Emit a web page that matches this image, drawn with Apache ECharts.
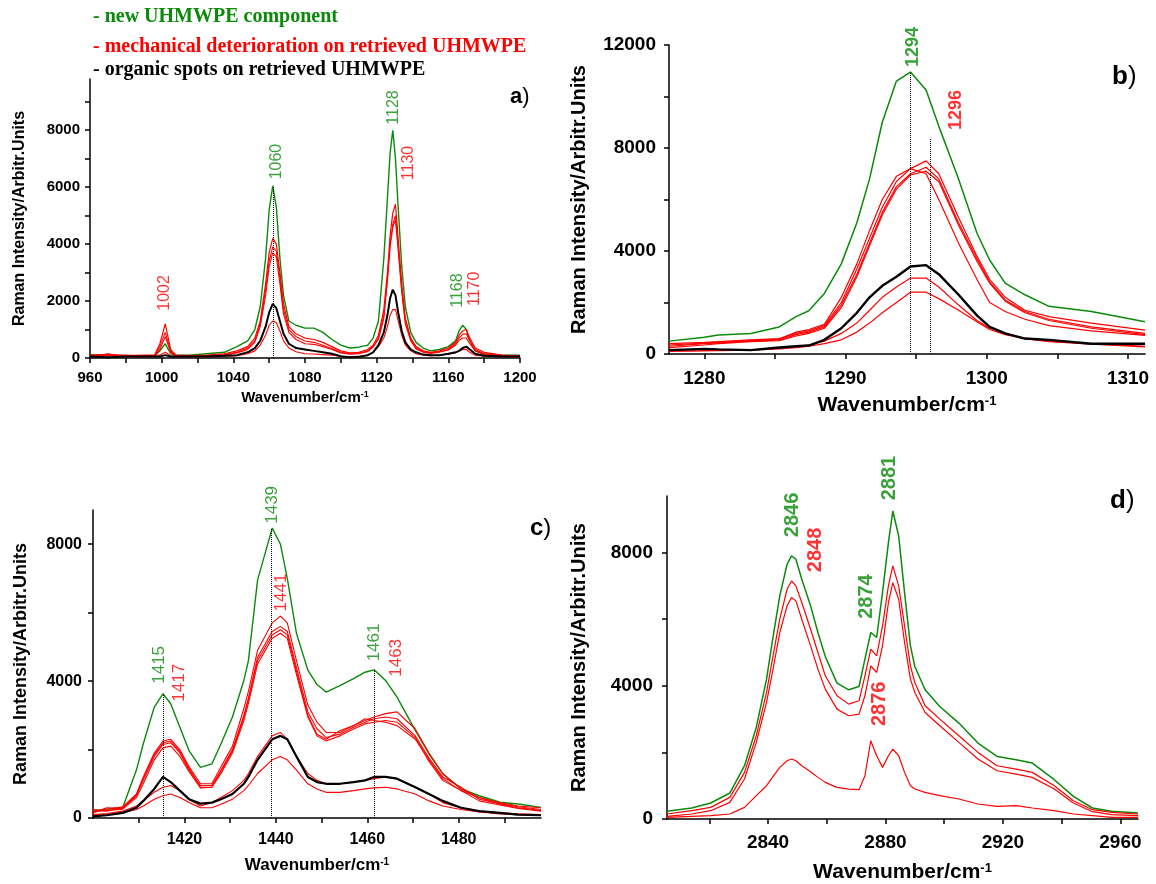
<!DOCTYPE html>
<html>
<head>
<meta charset="utf-8">
<title>Raman spectra UHMWPE</title>
<script src="https://cdn.jsdelivr.net/npm/echarts@6.0.0/dist/echarts.min.js"></script>
<style>
  html, body { margin: 0; padding: 0; background: #fff; }
  #chart { width: 1156px; height: 884px; }
</style>
</head>
<body>
<div id="chart"></div>
<script>
const GREEN = '#0a8a0a';
const RED = '#ff0000';
const BLACK = '#000000';
const SANS = '"Liberation Sans", Arial, sans-serif';
const SERIF = '"Liberation Serif", "Times New Roman", serif';

// ---- panel a) 960-1200 cm-1
const xA = [960, 970, 980, 990, 996, 999, 1002, 1005, 1008, 1015, 1025, 1035, 1042, 1048, 1052, 1055, 1058, 1060, 1062, 1064, 1066, 1068, 1071, 1075, 1080, 1085, 1090, 1095, 1100, 1105, 1110, 1115, 1118, 1121, 1124, 1126, 1127.5, 1129, 1130.5, 1132, 1134, 1136, 1139, 1142, 1146, 1150, 1155, 1160, 1164, 1166, 1168, 1170, 1172, 1175, 1180, 1190, 1200];
const aGreen = [120, 100, 80, 80, 80, 250, 500, 150, 100, 100, 150, 200, 400, 600, 1000, 1800, 3500, 5200, 6050, 5300, 3500, 2200, 1300, 1150, 1050, 1050, 900, 650, 450, 350, 380, 450, 700, 1300, 3500, 5600, 7200, 8000, 7000, 5300, 3200, 1800, 900, 550, 350, 250, 300, 400, 600, 950, 1150, 1000, 600, 250, 150, 100, 100];
const aRed1 = [100, 120, 80, 100, 100, 500, 1200, 300, 100, 80, 100, 150, 250, 400, 700, 1300, 2600, 3700, 4200, 4000, 3000, 1900, 1100, 850, 700, 650, 550, 400, 250, 180, 200, 300, 450, 800, 1700, 3000, 4300, 5100, 5400, 4200, 2600, 1400, 700, 400, 250, 200, 250, 350, 550, 800, 950, 1000, 700, 350, 200, 100, 80];
const aRed2 = [80, 100, 60, 80, 80, 400, 900, 250, 80, 60, 80, 120, 200, 350, 600, 1200, 2400, 3400, 3900, 3750, 2800, 1700, 1000, 750, 600, 550, 450, 330, 200, 150, 160, 250, 400, 700, 1500, 2800, 4000, 4700, 5000, 3900, 2400, 1300, 650, 350, 220, 180, 220, 300, 500, 700, 830, 850, 600, 300, 150, 80, 60];
const aRed3 = [60, 80, 100, 60, 60, 300, 750, 200, 60, 80, 60, 100, 180, 300, 550, 1100, 2200, 3200, 3700, 3550, 2600, 1550, 900, 650, 500, 480, 400, 300, 180, 130, 150, 230, 380, 650, 1400, 2700, 3900, 4600, 4850, 3800, 2300, 1200, 600, 320, 200, 160, 200, 280, 450, 620, 700, 700, 500, 250, 120, 60, 50];
const aRed4 = [50, 150, 50, 50, 50, 100, 200, 80, 50, 50, 50, 60, 80, 150, 250, 450, 800, 1150, 1300, 1250, 950, 600, 350, 220, 150, 140, 120, 100, 60, 50, 60, 100, 200, 400, 700, 1100, 1500, 1700, 1700, 1300, 800, 450, 250, 150, 100, 80, 100, 130, 180, 250, 300, 300, 200, 100, 60, 50, 40];
const aBlack = [50, 30, 50, 50, 50, 50, 100, 50, 50, 50, 50, 80, 100, 200, 350, 600, 1100, 1600, 1900, 1750, 1300, 850, 500, 350, 300, 250, 200, 150, 60, 30, 40, 100, 200, 450, 900, 1500, 2100, 2400, 2200, 1600, 950, 550, 300, 200, 120, 100, 100, 150, 200, 250, 350, 400, 300, 150, 80, 50, 50];
const aXLabels = [960, 1000, 1040, 1080, 1120, 1160, 1200];
const aXTicks = [960, 980, 1000, 1020, 1040, 1060, 1080, 1100, 1120, 1140, 1160, 1180, 1200];
const aYLabels = [0, 2000, 4000, 6000, 8000];
const aYTicks = [0, 1000, 2000, 3000, 4000, 5000, 6000, 7000, 8000, 9000];
const aPeaksGreen = [[1063.9, 6900, '1060'], [1129.3, 8800, '1128'], [1165.4, 2365, '1168']];
const aPeaksRed = [[1001.5, 2285, '1002'], [1137.7, 6850, '1130'], [1174.8, 2430, '1170']];
const aDots = [[1062.5, 6050]];

// ---- panel b) 1277-1311 cm-1
const xB = [1277.5, 1280, 1281, 1283.3, 1285.3, 1286.5, 1287.4, 1288.5, 1289.7, 1290.8, 1291.7, 1292.6, 1293.6, 1294.6, 1295.7, 1296.6, 1298, 1299.3, 1300.2, 1301.3, 1302.7, 1304.4, 1307.4, 1311.2];
const bGreen = [500, 650, 740, 800, 1050, 1450, 1680, 2350, 3500, 5100, 6800, 9000, 10600, 10950, 10250, 8850, 6800, 4700, 3650, 2750, 2300, 1850, 1650, 1250];
const bRed1 = [400, 450, 480, 550, 600, 800, 900, 1100, 2000, 3300, 4500, 5700, 6700, 7200, 7500, 7000, 5300, 3800, 2900, 2200, 1700, 1450, 1200, 930];
const bRed2 = [300, 400, 430, 500, 550, 750, 850, 1050, 1900, 3100, 4300, 5500, 6500, 7000, 7250, 6800, 5100, 3700, 2800, 2100, 1650, 1350, 1050, 800];
const bRed3 = [350, 420, 450, 520, 580, 850, 950, 1150, 2200, 3500, 4800, 6000, 6900, 7200, 7000, 6000, 4300, 2900, 2000, 1650, 1350, 1100, 900, 720];
const bRed4 = [250, 350, 400, 480, 520, 700, 800, 1000, 1800, 3000, 4200, 5400, 6400, 6950, 7100, 6700, 5000, 3600, 2750, 2050, 1600, 1300, 1000, 750];
const bRed5 = [150, 150, 150, 150, 250, 300, 350, 500, 800, 1200, 1700, 2200, 2600, 2950, 2950, 2600, 1900, 1300, 1000, 800, 600, 500, 400, 300];
const bRed6 = [100, 120, 130, 150, 200, 250, 300, 400, 550, 850, 1200, 1600, 2000, 2400, 2400, 2150, 1700, 1250, 950, 750, 600, 480, 380, 280];
const bBlack = [150, 200, 180, 150, 250, 300, 330, 550, 1000, 1600, 2200, 2650, 3000, 3400, 3450, 3100, 2300, 1500, 1050, 800, 600, 550, 400, 400];
const bXLabels = [1280, 1290, 1300, 1310];
const bXTicks = [1280, 1285, 1290, 1295, 1300, 1305, 1310];
const bYLabels = [0, 4000, 8000, 12000];
const bYTicks = [0, 2000, 4000, 6000, 8000, 10000, 12000];
const bPeaksGreen = [[1294.8, 11920, '1294']];
const bPeaksRed = [[1297.8, 9475, '1296']];
const bDots = [[1294.6, 10950], [1296, 8350]];

// ---- panel c) 1400-1498 cm-1
const xC = [1400, 1403, 1406.5, 1409.5, 1411, 1413.4, 1415.3, 1417, 1419, 1421, 1423.5, 1426, 1428, 1430.5, 1433, 1434, 1436, 1439.2, 1441, 1442.5, 1444.5, 1447, 1449, 1451, 1454, 1457, 1459.5, 1461.5, 1464, 1466.5, 1470.5, 1473.5, 1476.5, 1480.5, 1484.5, 1489, 1493, 1498];
const cGreen = [215, 260, 310, 1400, 2170, 3240, 3630, 3340, 2650, 1970, 1480, 1580, 2170, 2950, 4020, 4600, 6950, 8470, 8000, 7000, 5400, 4320, 3900, 3680, 3870, 4070, 4260, 4330, 4020, 3530, 2560, 1870, 1290, 850, 650, 460, 410, 310];
const cRed1 = [200, 250, 330, 700, 1200, 1900, 2250, 2300, 2000, 1500, 1000, 1000, 1500, 2100, 3200, 3700, 4900, 5700, 5900, 5700, 4600, 3300, 2800, 2500, 2500, 2700, 2850, 2950, 3050, 3100, 2600, 1900, 1300, 850, 600, 450, 350, 300];
const cRed2 = [150, 300, 280, 650, 1100, 1800, 2150, 2200, 1900, 1400, 950, 950, 1400, 2000, 3000, 3500, 4700, 5450, 5600, 5450, 4400, 3100, 2600, 2350, 2450, 2650, 2800, 2900, 2950, 2900, 2400, 1750, 1200, 900, 550, 420, 330, 250];
const cRed3 = [250, 200, 300, 680, 1150, 1850, 2200, 2250, 1950, 1450, 900, 900, 1350, 1950, 2950, 3450, 4600, 5350, 5500, 5350, 4300, 3000, 2450, 2300, 2550, 2700, 2900, 2850, 2800, 2700, 2300, 1700, 1150, 800, 600, 400, 300, 220];
const cRed4 = [180, 220, 260, 600, 1000, 1700, 2050, 2100, 1800, 1350, 880, 900, 1300, 1900, 2850, 3350, 4500, 5250, 5400, 5250, 4200, 2950, 2400, 2250, 2400, 2600, 2750, 2800, 2850, 2800, 2350, 1650, 1100, 800, 500, 380, 280, 200];
const cRed5 = [100, 130, 200, 350, 500, 750, 900, 950, 800, 550, 350, 450, 600, 800, 1100, 1300, 1800, 2400, 2500, 2300, 1800, 1300, 1100, 1000, 1000, 1050, 1100, 1150, 1200, 1150, 900, 700, 450, 300, 200, 150, 120, 100];
const cRed6 = [80, 100, 150, 250, 350, 550, 650, 700, 600, 450, 300, 300, 400, 550, 800, 950, 1300, 1700, 1800, 1700, 1400, 1000, 850, 750, 750, 800, 850, 880, 900, 850, 700, 500, 350, 250, 180, 120, 100, 80];
const cBlack = [50, 80, 150, 300, 500, 850, 1200, 1050, 800, 550, 420, 450, 550, 700, 1000, 1200, 1700, 2300, 2400, 2300, 1800, 1200, 1050, 1000, 1000, 1050, 1100, 1200, 1200, 1150, 900, 700, 500, 300, 200, 150, 100, 80];
const cXLabels = [1420, 1440, 1460, 1480];
const cXTicks = [1410, 1420, 1430, 1440, 1450, 1460, 1470, 1480, 1490];
const cYLabels = [0, 4000, 8000];
const cYTicks = [0, 2000, 4000, 6000, 8000];
const cPeaksGreen = [[1414.5, 4475, '1415'], [1439.2, 9150, '1439'], [1461.6, 5130, '1461']];
const cPeaksRed = [[1418.9, 3950, '1417'], [1441.2, 6590, '1441'], [1466.3, 4680, '1463']];
const cDots = [[1415.3, 3630], [1439, 8470], [1461.5, 4330]];

// ---- panel d) 2805-2966 cm-1
const xD = [2805.6, 2814, 2820.5, 2827, 2832, 2836, 2839.5, 2841.5, 2844, 2846.5, 2848, 2849.5, 2851.5, 2854.5, 2857, 2859.5, 2863.5, 2867.5, 2871, 2873, 2875, 2877, 2879, 2881, 2882.5, 2884.5, 2886.5, 2888.5, 2890, 2893.5, 2898.5, 2905, 2911.5, 2918, 2924.5, 2930, 2937.5, 2944, 2950.5, 2957, 2966];
const dGreen = [230, 330, 480, 780, 1600, 2750, 4200, 5350, 6700, 7650, 7900, 7800, 7200, 6400, 5600, 4880, 4080, 3880, 3980, 4800, 5600, 5450, 6800, 8300, 9250, 8500, 6800, 5200, 4580, 3880, 3380, 2880, 2280, 1880, 1780, 1680, 1180, 680, 330, 230, 180];
const dRed1 = [150, 250, 350, 650, 1400, 2500, 3800, 4800, 6000, 6900, 7150, 7000, 6500, 5700, 5000, 4300, 3700, 3450, 3550, 4300, 5100, 4900, 5800, 7000, 7600, 7000, 5800, 4600, 4100, 3400, 3000, 2500, 2000, 1600, 1500, 1400, 1000, 550, 280, 200, 150];
const dRed2 = [80, 150, 250, 500, 1200, 2300, 3500, 4400, 5600, 6400, 6650, 6550, 6000, 5200, 4500, 3900, 3300, 3100, 3150, 3700, 4600, 4400, 5200, 6500, 7100, 6600, 5300, 4200, 3800, 3200, 2800, 2300, 1800, 1450, 1350, 1250, 900, 480, 220, 130, 100];
const dRed3 = [50, 80, 100, 150, 350, 700, 1000, 1250, 1550, 1750, 1800, 1750, 1600, 1420, 1250, 1100, 950, 900, 880, 1300, 2350, 1900, 1550, 1900, 2100, 1900, 1400, 1000, 900, 800, 700, 600, 450, 380, 400, 330, 250, 150, 100, 50, 50];
const dXLabels = [2840, 2880, 2920, 2960];
const dXTicks = [2820, 2840, 2860, 2880, 2900, 2920, 2940, 2960];
const dYLabels = [0, 4000, 8000];
const dYTicks = [0, 2000, 4000, 6000, 8000];
const dPeaksGreen = [[2848.3, 9130, '2846'], [2873.6, 6680, '2874'], [2881.3, 10240, '2881']];
const dPeaksRed = [[2856, 8080, '2848'], [2878.1, 3460, '2876']];

function spectrum(xs, ys, color, width, idx) {
    return {
        type: 'line',
        xAxisIndex: idx,
        yAxisIndex: idx,
        data: xs.map((x, i) => [x, ys[i]]),
        symbol: 'none',
        silent: true,
        lineStyle: { color: color, width: width }
    };
}

// dotted guide lines from the baseline up to the peak
function withDots(series, dots) {
    series.markLine = {
        silent: true,
        symbol: ['none', 'none'],
        label: { show: false },
        lineStyle: { type: 'dotted', color: '#000', width: 1 },
        data: dots.map(d => [{ coord: [d[0], 0] }, { coord: [d[0], d[1]] }])
    };
    return series;
}

function peakLabels(list, color, idx, size, weight) {
    return {
        type: 'scatter',
        xAxisIndex: idx,
        yAxisIndex: idx,
        clip: false,
        silent: true,
        symbolSize: 1,
        itemStyle: { color: 'rgba(0,0,0,0)' },
        z: 10,
        data: list.map(p => ({ value: [p[0], p[1]], name: p[2] })),
        label: {
            show: true, formatter: '{b}', rotate: 90, position: 'inside',
            color: color, fontSize: size, fontWeight: weight, fontFamily: SANS
        }
    };
}

function plain(v) {
    return String(v);
}

function xAxisFor(idx, min, max, labels, ticks, fs, margin, nameSize, nameGap) {
    return {
        gridIndex: idx, type: 'value', min: min, max: max,
        axisLine: { show: true, onZero: false, lineStyle: { color: '#000', width: 1.5 } },
        axisTick: { show: true, length: 5, customValues: ticks, lineStyle: { color: '#000', width: 1.5 } },
        axisLabel: { customValues: labels, formatter: plain, fontSize: fs, fontWeight: 'bold', color: '#000', margin: margin, fontFamily: SANS },
        splitLine: { show: false },
        name: 'Wavenumber/cm{sup|-1}',
        nameLocation: 'middle',
        nameGap: nameGap,
        nameTextStyle: {
            fontSize: nameSize, fontWeight: 'bold', color: '#000', fontFamily: SANS,
            rich: { sup: { fontSize: Math.round(nameSize * 0.6), fontWeight: 'bold', color: '#000', verticalAlign: 'top', fontFamily: SANS } }
        }
    };
}

function yAxisFor(idx, max, labels, ticks, fs, margin, nameSize, nameGap) {
    return {
        gridIndex: idx, type: 'value', min: 0, max: max,
        axisLine: { show: true, onZero: false, lineStyle: { color: '#000', width: 1.5 } },
        axisTick: { show: true, length: 5, customValues: ticks, lineStyle: { color: '#000', width: 1.5 } },
        axisLabel: { customValues: labels, formatter: plain, fontSize: fs, fontWeight: 'bold', color: '#000', margin: margin, fontFamily: SANS },
        splitLine: { show: false },
        name: 'Raman Intensity/Arbitr.Units',
        nameLocation: 'middle',
        nameRotate: 90,
        nameGap: nameGap,
        nameTextStyle: { fontSize: nameSize, fontWeight: 'bold', color: '#000', fontFamily: SANS }
    };
}

function panelLetter(ch, left, top, size) {
    return {
        type: 'text', left: left, top: top,
        style: {
            text: '{l|' + ch + '}{p|)}',
            rich: {
                l: { font: 'bold ' + size + 'px ' + SANS, fill: '#000' },
                p: { font: size + 'px ' + SANS, fill: '#000' }
            }
        }
    };
}

var dom = document.getElementById('chart');
var myChart = echarts.init(dom, null, { renderer: 'canvas' });

var option = {
    backgroundColor: '#fff',
    animation: false,
    grid: [
        { left: 90, top: 79, width: 430, height: 279 },
        { left: 669, top: 45, width: 476, height: 309 },
        { left: 93, top: 510, width: 448, height: 308 },
        { left: 667, top: 496, width: 471, height: 323 }
    ],
    xAxis: [
        xAxisFor(0, 960, 1200, aXLabels, aXTicks, 15, 12, 15, 32),
        xAxisFor(1, 1277.5, 1311.2, bXLabels, bXTicks, 19, 15, 21, 41),
        xAxisFor(2, 1400, 1498, cXLabels, cXTicks, 16, 14, 17, 39),
        xAxisFor(3, 2805.6, 2966, dXLabels, dXTicks, 19, 14, 21, 43)
    ],
    yAxis: [
        yAxisFor(0, 9800, aYLabels, aYTicks, 15, 10, 16, 62),
        yAxisFor(1, 12000, bYLabels, bYTicks, 19, 13, 20, 80),
        yAxisFor(2, 9000, cYLabels, cYTicks, 16, 11, 18, 63),
        yAxisFor(3, 9700, dYLabels, dYTicks, 19, 14, 20, 78)
    ],
    graphic: [
        { type: 'text', left: 93, top: 7, style: { text: '- new UHMWPE component', fill: GREEN, font: 'bold 20px ' + SERIF } },
        { type: 'text', left: 93, top: 37, style: { text: '- mechanical deterioration on retrieved UHMWPE', fill: RED, font: 'bold 20px ' + SERIF } },
        { type: 'text', left: 93, top: 60, style: { text: '- organic spots on retrieved UHMWPE', fill: BLACK, font: 'bold 20px ' + SERIF } },
        panelLetter('a', 510, 86, 22),
        panelLetter('b', 1112, 64, 26),
        panelLetter('c', 530, 516, 24),
        panelLetter('d', 1110, 488, 26)
    ],
    series: [
        withDots(spectrum(xA, aGreen, GREEN, 1.4, 0), aDots),
        spectrum(xA, aRed1, RED, 1.2, 0),
        spectrum(xA, aRed2, RED, 1.1, 0),
        spectrum(xA, aRed3, RED, 1.1, 0),
        spectrum(xA, aRed4, RED, 1.1, 0),
        spectrum(xA, aBlack, BLACK, 2, 0),
        peakLabels(aPeaksGreen, GREEN, 0, 16, 'normal'),
        peakLabels(aPeaksRed, RED, 0, 16, 'normal'),

        withDots(spectrum(xB, bGreen, GREEN, 1.5, 1), bDots),
        spectrum(xB, bRed1, RED, 1.2, 1),
        spectrum(xB, bRed2, RED, 1.2, 1),
        spectrum(xB, bRed3, RED, 1.2, 1),
        spectrum(xB, bRed4, RED, 1.2, 1),
        spectrum(xB, bRed5, RED, 1.2, 1),
        spectrum(xB, bRed6, RED, 1.2, 1),
        spectrum(xB, bBlack, BLACK, 2.4, 1),
        peakLabels(bPeaksGreen, GREEN, 1, 18, 'bold'),
        peakLabels(bPeaksRed, RED, 1, 18, 'bold'),

        withDots(spectrum(xC, cGreen, GREEN, 1.4, 2), cDots),
        spectrum(xC, cRed1, RED, 1.1, 2),
        spectrum(xC, cRed2, RED, 1.1, 2),
        spectrum(xC, cRed3, RED, 1.1, 2),
        spectrum(xC, cRed4, RED, 1.1, 2),
        spectrum(xC, cRed5, RED, 1.1, 2),
        spectrum(xC, cRed6, RED, 1.1, 2),
        spectrum(xC, cBlack, BLACK, 2.2, 2),
        peakLabels(cPeaksGreen, GREEN, 2, 17, 'normal'),
        peakLabels(cPeaksRed, RED, 2, 17, 'normal'),

        spectrum(xD, dGreen, GREEN, 1.5, 3),
        spectrum(xD, dRed1, RED, 1.2, 3),
        spectrum(xD, dRed2, RED, 1.2, 3),
        spectrum(xD, dRed3, RED, 1.2, 3),
        peakLabels(dPeaksGreen, GREEN, 3, 20, 'bold'),
        peakLabels(dPeaksRed, RED, 3, 20, 'bold')
    ]
};

if (option && typeof option === 'object') {
    myChart.setOption(option);
}

window.addEventListener('resize', myChart.resize);
</script>
</body>
</html>
